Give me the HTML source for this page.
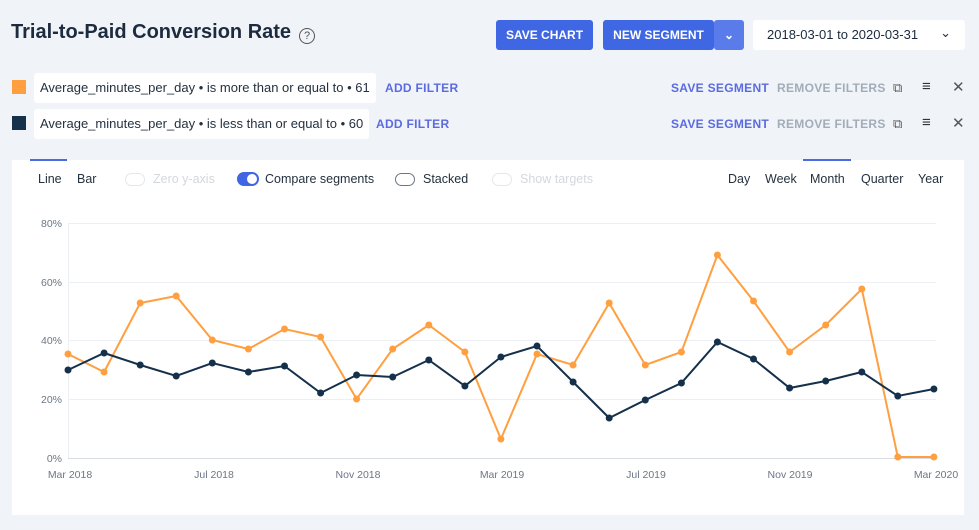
<!DOCTYPE html>
<html><head><meta charset="utf-8"><style>
body{margin:0;width:979px;height:530px;background:#f0f3f8;font-family:"Liberation Sans",sans-serif;position:relative;overflow:hidden;color:#1b2a3d}
.a{position:absolute;white-space:nowrap}
.btn{background:#4067e3;color:#fff;font-size:12px;font-weight:bold;border-radius:3px;height:30px;line-height:30px;text-align:center}
.chip{background:#fff;border-radius:3px;height:30px;line-height:30px;font-size:13px;padding:0 6px;color:#24313f}
.lk{font-size:12px;font-weight:bold;color:#5a6be0;letter-spacing:.3px}
.gr{font-size:12px;font-weight:bold;color:#a2adb9;letter-spacing:.3px}
.t{font-size:12.5px;color:#24313f}
.tg{width:18px;height:11px;border:1.5px solid #6b7785;border-radius:8px;position:absolute}
</style></head><body>
<div class="a" style="left:11px;top:21px;font-size:20px;font-weight:bold;color:#1d2b3e">Trial-to-Paid Conversion Rate</div>
<div class="a" style="left:299px;top:28px;width:14px;height:14px;border:1.3px solid #555;border-radius:50%;font-size:11px;text-align:center;line-height:14px;color:#555">?</div>
<div class="a btn" style="left:496px;top:20px;width:97px">SAVE CHART</div>
<div class="a btn" style="left:603px;top:20px;width:111px">NEW SEGMENT</div>
<div class="a btn" style="left:714px;top:20px;width:30px;background:#5a7ceb">⌄</div>
<div class="a" style="left:753px;top:20px;width:212px;height:30px;background:#fff;border-radius:3px;font-size:13px;line-height:30px"><span style="margin-left:14px">2018-03-01 to 2020-03-31</span><span style="position:absolute;right:14px;top:-2px">⌄</span></div>

<div class="a" style="left:12px;top:80px;width:14px;height:14px;background:#ff9f40"></div>
<div class="a chip" style="left:34px;top:73px">Average_minutes_per_day • is more than or equal to • 61</div>
<div class="a lk" style="left:385px;top:81px">ADD FILTER</div>
<div class="a" style="left:12px;top:116px;width:14px;height:14px;background:#14304b"></div>
<div class="a chip" style="left:34px;top:109px">Average_minutes_per_day • is less than or equal to • 60</div>
<div class="a lk" style="left:376px;top:117px">ADD FILTER</div>
<div class="a lk" style="left:671px;top:81px">SAVE SEGMENT</div>
<div class="a gr" style="left:777px;top:81px">REMOVE FILTERS</div>
<div class="a lk" style="left:671px;top:117px">SAVE SEGMENT</div>
<div class="a gr" style="left:777px;top:117px">REMOVE FILTERS</div>
<div class="a" style="left:893px;top:80px;font-size:13px;color:#555">⧉</div>
<div class="a" style="left:922px;top:78px;font-size:15px;color:#333">≡</div>
<div class="a" style="left:952px;top:78px;font-size:15px;color:#555">✕</div>
<div class="a" style="left:893px;top:116px;font-size:13px;color:#555">⧉</div>
<div class="a" style="left:922px;top:114px;font-size:15px;color:#333">≡</div>
<div class="a" style="left:952px;top:114px;font-size:15px;color:#555">✕</div>

<div class="a" style="left:12px;top:160px;width:952px;height:355px;background:#fff"></div>
<div class="a" style="left:30px;top:159px;width:37px;height:2px;background:#4a6be3"></div>
<div class="a" style="left:803px;top:159px;width:48px;height:2px;background:#4a6be3"></div>
<div class="a t" style="left:38px;top:172px">Line</div>
<div class="a t" style="left:77px;top:172px">Bar</div>
<div class="tg" style="left:125px;top:173px;border-color:#e3e7ec"></div>
<div class="a t" style="left:153px;top:172px;color:#d3d8de">Zero y-axis</div>
<div class="a" style="left:237px;top:172px;width:22px;height:14px;background:#4067e3;border-radius:8px"><div style="position:absolute;right:2px;top:2px;width:10px;height:10px;background:#fff;border-radius:50%"></div></div>
<div class="a t" style="left:265px;top:172px">Compare segments</div>
<div class="tg" style="left:395px;top:173px"></div>
<div class="a t" style="left:423px;top:172px">Stacked</div>
<div class="tg" style="left:492px;top:173px;border-color:#e3e7ec"></div>
<div class="a t" style="left:520px;top:172px;color:#d3d8de">Show targets</div>
<div class="a t" style="left:728px;top:172px">Day</div>
<div class="a t" style="left:765px;top:172px">Week</div>
<div class="a t" style="left:810px;top:172px">Month</div>
<div class="a t" style="left:861px;top:172px">Quarter</div>
<div class="a t" style="left:918px;top:172px">Year</div>

<svg class="a" style="left:0;top:0" width="979" height="530" font-family="Liberation Sans, sans-serif" font-size="10.5" fill="#6b7785">
<g stroke="#eceff3" stroke-width="1">
<line x1="68" x2="936" y1="223.5" y2="223.5"/><line x1="68" x2="936" y1="282.5" y2="282.5"/><line x1="68" x2="936" y1="340.5" y2="340.5"/><line x1="68" x2="936" y1="399.5" y2="399.5"/><line x1="68" x2="936" y1="458.5" y2="458.5" stroke="#d8dde3"/>
<line x1="68.5" x2="68.5" y1="223" y2="458"/>
</g>
<g text-anchor="end"><text x="62" y="227">80%</text><text x="62" y="286">60%</text><text x="62" y="344">40%</text><text x="62" y="403">20%</text><text x="62" y="462">0%</text></g>
<g text-anchor="middle"><text x="70" y="478">Mar 2018</text><text x="214" y="478">Jul 2018</text><text x="358" y="478">Nov 2018</text><text x="502" y="478">Mar 2019</text><text x="646" y="478">Jul 2019</text><text x="790" y="478">Nov 2019</text><text x="936" y="478">Mar 2020</text></g>
<polyline fill="none" stroke="#ff9f40" stroke-width="2" points="68,354 104.1,372 140.2,303 176.2,296 212.3,340 248.4,349 284.5,329 320.6,337 356.6,399 392.7,349 428.8,325 464.9,352 500.9,439 537,354 573.1,365 609.2,303 645.3,365 681.4,352 717.4,255 753.5,301 789.6,352 825.7,325 861.8,289 897.8,457 933.9,457"/>
<g fill="#ff9f40"><circle cx="68" cy="354" r="3.5"/><circle cx="104.1" cy="372" r="3.5"/><circle cx="140.2" cy="303" r="3.5"/><circle cx="176.2" cy="296" r="3.5"/><circle cx="212.3" cy="340" r="3.5"/><circle cx="248.4" cy="349" r="3.5"/><circle cx="284.5" cy="329" r="3.5"/><circle cx="320.6" cy="337" r="3.5"/><circle cx="356.6" cy="399" r="3.5"/><circle cx="392.7" cy="349" r="3.5"/><circle cx="428.8" cy="325" r="3.5"/><circle cx="464.9" cy="352" r="3.5"/><circle cx="500.9" cy="439" r="3.5"/><circle cx="537" cy="354" r="3.5"/><circle cx="573.1" cy="365" r="3.5"/><circle cx="609.2" cy="303" r="3.5"/><circle cx="645.3" cy="365" r="3.5"/><circle cx="681.4" cy="352" r="3.5"/><circle cx="717.4" cy="255" r="3.5"/><circle cx="753.5" cy="301" r="3.5"/><circle cx="789.6" cy="352" r="3.5"/><circle cx="825.7" cy="325" r="3.5"/><circle cx="861.8" cy="289" r="3.5"/><circle cx="897.8" cy="457" r="3.5"/><circle cx="933.9" cy="457" r="3.5"/></g>
<polyline fill="none" stroke="#14304b" stroke-width="2" points="68,370 104.1,353 140.2,365 176.2,376 212.3,363 248.4,372 284.5,366 320.6,393 356.6,375 392.7,377 428.8,360 464.9,386 500.9,357 537,346 573.1,382 609.2,418 645.3,400 681.4,383 717.4,342 753.5,359 789.6,388 825.7,381 861.8,372 897.8,396 933.9,389"/>
<g fill="#14304b"><circle cx="68" cy="370" r="3.5"/><circle cx="104.1" cy="353" r="3.5"/><circle cx="140.2" cy="365" r="3.5"/><circle cx="176.2" cy="376" r="3.5"/><circle cx="212.3" cy="363" r="3.5"/><circle cx="248.4" cy="372" r="3.5"/><circle cx="284.5" cy="366" r="3.5"/><circle cx="320.6" cy="393" r="3.5"/><circle cx="356.6" cy="375" r="3.5"/><circle cx="392.7" cy="377" r="3.5"/><circle cx="428.8" cy="360" r="3.5"/><circle cx="464.9" cy="386" r="3.5"/><circle cx="500.9" cy="357" r="3.5"/><circle cx="537" cy="346" r="3.5"/><circle cx="573.1" cy="382" r="3.5"/><circle cx="609.2" cy="418" r="3.5"/><circle cx="645.3" cy="400" r="3.5"/><circle cx="681.4" cy="383" r="3.5"/><circle cx="717.4" cy="342" r="3.5"/><circle cx="753.5" cy="359" r="3.5"/><circle cx="789.6" cy="388" r="3.5"/><circle cx="825.7" cy="381" r="3.5"/><circle cx="861.8" cy="372" r="3.5"/><circle cx="897.8" cy="396" r="3.5"/><circle cx="933.9" cy="389" r="3.5"/></g>
</svg>
</body></html>
